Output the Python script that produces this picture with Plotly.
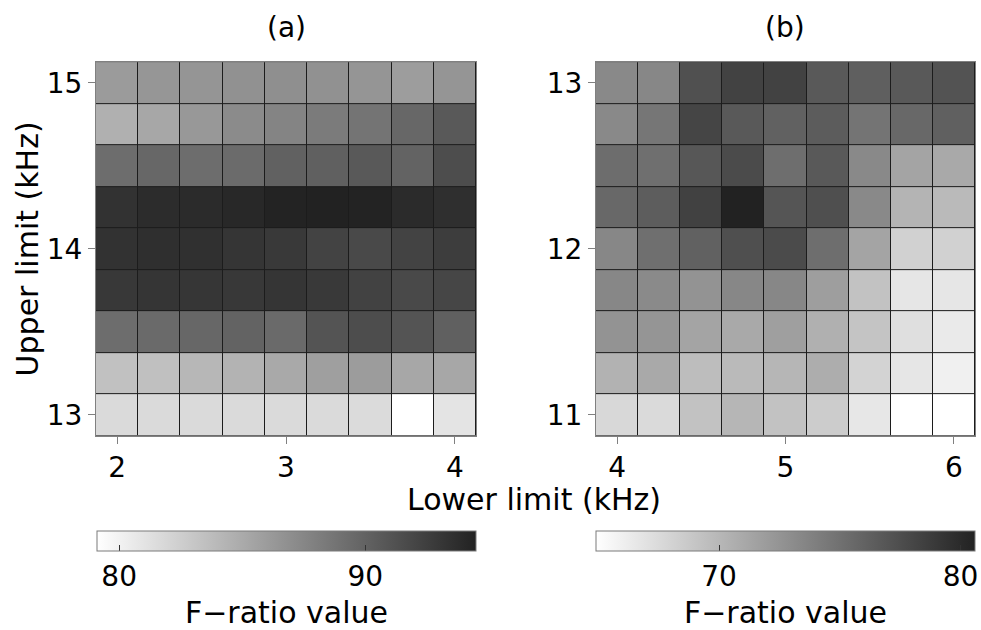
import plotly.graph_objects as go

# Band limits (kHz) for the two searches
lower_a = [2.0, 2.25, 2.5, 2.75, 3.0, 3.25, 3.5, 3.75, 4.0]
upper_a = [13.0, 13.25, 13.5, 13.75, 14.0, 14.25, 14.5, 14.75, 15.0]
lower_b = [4.0, 4.25, 4.5, 4.75, 5.0, 5.25, 5.5, 5.75, 6.0]
upper_b = [11.0, 11.25, 11.5, 11.75, 12.0, 12.25, 12.5, 12.75, 13.0]

# F-ratio values, one row per upper limit (ascending), one column per lower limit
fratio_a = [
    [81.7, 81.7, 81.7, 81.7, 81.7, 81.7, 81.6, 79.1, 81.0],
    [83.4, 83.5, 84.1, 84.4, 85.1, 85.8, 86.0, 85.2, 85.2],
    [89.3, 89.5, 89.7, 90.0, 89.5, 91.0, 91.5, 91.0, 90.2],
    [93.0, 93.2, 93.1, 93.0, 93.2, 92.9, 92.3, 91.8, 92.0],
    [93.4, 93.6, 93.5, 93.2, 92.9, 92.2, 91.8, 92.2, 92.6],
    [93.4, 93.8, 93.9, 94.1, 94.4, 94.5, 94.4, 93.9, 93.6],
    [89.3, 89.7, 89.3, 89.4, 90.1, 90.2, 90.7, 90.0, 91.5],
    [84.6, 85.2, 86.3, 87.2, 87.7, 88.3, 88.8, 89.7, 90.7],
    [86.1, 86.4, 86.5, 86.8, 86.9, 86.8, 86.5, 85.9, 86.5],
]
fratio_b = [
    [67.7, 67.5, 69.2, 70.1, 69.2, 68.5, 66.6, 64.9, 64.9],
    [70.4, 71.0, 69.6, 69.8, 70.1, 70.7, 68.0, 66.7, 66.0],
    [72.6, 72.4, 71.4, 71.0, 71.7, 70.5, 69.1, 67.2, 66.4],
    [73.4, 73.2, 72.6, 73.4, 73.4, 71.8, 69.2, 66.7, 66.7],
    [73.4, 75.1, 76.1, 77.4, 77.7, 75.2, 71.4, 68.2, 68.2],
    [75.6, 76.4, 78.4, 80.6, 77.0, 77.4, 73.3, 70.2, 69.8],
    [75.3, 75.1, 76.8, 77.7, 75.2, 76.7, 73.3, 71.4, 71.0],
    [73.3, 74.6, 78.1, 76.7, 76.1, 76.5, 74.8, 75.6, 76.2],
    [73.3, 73.4, 77.3, 78.3, 78.3, 76.7, 76.3, 76.7, 77.1],
]

xticks_a = [2, 3, 4]
yticks_a = [13, 14, 15]
xticks_b = [4, 5, 6]
yticks_b = [11, 12, 13]
cbticks_a = [80, 90]
cbticks_b = [70, 80]

W, H = 981, 630
FONT = "DejaVu Sans, Liberation Sans, Arial, sans-serif"
FS_TICK = 28
FS_TITLE = 30
GREYS = [[0.0, "#ffffff"], [1.0, "#222222"]]


def px_x(p):
    return p / W


def px_y(p):
    return 1 - p / H


fig = go.Figure()

fig.add_trace(go.Heatmap(
    x=lower_a, y=upper_a, z=fratio_a, coloraxis="coloraxis",
    xgap=1, ygap=1, xaxis="x", yaxis="y", hoverongaps=False,
))
fig.add_trace(go.Heatmap(
    x=lower_b, y=upper_b, z=fratio_b, coloraxis="coloraxis2",
    xgap=1, ygap=1, xaxis="x2", yaxis="y2", hoverongaps=False,
))

flat_a = [v for row in fratio_a for v in row]
flat_b = [v for row in fratio_b for v in row]


def colorbar(x0, x1, ticks):
    return dict(
        orientation="h",
        x=px_x((x0 + x1) / 2), xanchor="center",
        y=px_y(539), yanchor="top",
        len=x1 - x0, lenmode="pixels",
        thickness=20, thicknessmode="pixels",
        xpad=0, ypad=0,
        outlinecolor="#7a7a7a", outlinewidth=1,
        tickvals=ticks, ticks="inside", ticklen=6,
        tickcolor="#333333", tickwidth=1,
        tickfont=dict(family=FONT, size=FS_TICK, color="black"),
        title=dict(text="F\u2212ratio value", side="bottom",
                   font=dict(family=FONT, size=FS_TITLE, color="black")),
    )


fig.update_layout(
    width=W, height=H,
    margin=dict(l=0, r=0, t=0, b=0),
    paper_bgcolor="white",
    plot_bgcolor="#1c1c1c",
    font=dict(family=FONT, size=FS_TICK, color="black"),
    showlegend=False,
    coloraxis=dict(colorscale=GREYS, cmin=min(flat_a), cmax=max(flat_a),
                   colorbar=colorbar(97, 476, cbticks_a)),
    coloraxis2=dict(colorscale=GREYS, cmin=min(flat_b), cmax=max(flat_b),
                    colorbar=colorbar(596, 975, cbticks_b)),
)

axis_common = dict(
    showgrid=False, zeroline=False,
    showline=True, mirror=True, linecolor="#808080", linewidth=1,
    ticks="outside", ticklen=7, tickcolor="#808080", tickwidth=1,
    tickfont=dict(family=FONT, size=FS_TICK, color="black"),
)
ydom = [px_y(442), px_y(63)]

fig.update_layout(
    xaxis=dict(axis_common, domain=[px_x(96), px_x(476)], range=[1.875, 4.125],
               tickvals=xticks_a, anchor="y"),
    yaxis=dict(axis_common, domain=ydom, range=[12.875, 15.125],
               tickvals=yticks_a, anchor="x"),
    xaxis2=dict(axis_common, domain=[px_x(596), px_x(975)], range=[3.875, 6.125],
                tickvals=xticks_b, anchor="y2"),
    yaxis2=dict(axis_common, domain=ydom, range=[10.875, 13.125],
                tickvals=yticks_b, anchor="x2"),
)

annotations = [
    dict(text="(a)", x=px_x(286), y=px_y(28), size=FS_TICK),
    dict(text="(b)", x=px_x(785), y=px_y(28), size=FS_TICK),
    dict(text="Lower limit (kHz)", x=px_x(534), y=px_y(507), size=FS_TITLE),
    dict(text="Upper limit (kHz)", x=px_x(27), y=px_y(253), size=FS_TITLE,
         textangle=-90),
]
for a in annotations:
    size = a.pop("size")
    fig.add_annotation(
        xref="paper", yref="paper", xanchor="center", yanchor="middle",
        showarrow=False, font=dict(family=FONT, size=size, color="black"), **a,
    )

fig.write_html("out.html")
